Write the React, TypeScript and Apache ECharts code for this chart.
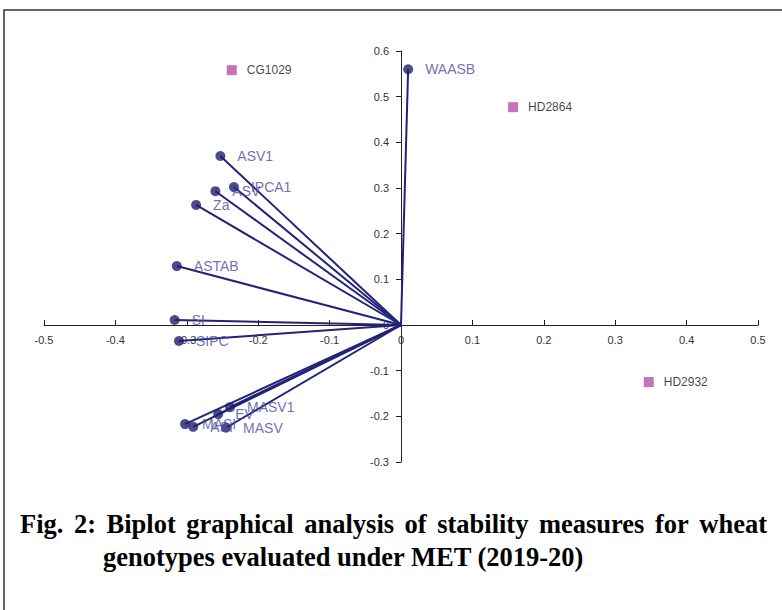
import React, { useEffect, useRef } from "react";
import * as echarts from "echarts";

const vectorNames = ["WAASB", "ASV1", "IPCA1", "ASV", "Za", "ASTAB", "SI", "SIPC", "MASV1", "EV", "MASV", "ASI", "MASI"];
const vectorX = [0.01, -0.253, -0.234, -0.26, -0.287, -0.314, -0.317, -0.311, -0.2395, -0.256, -0.245, -0.291, -0.3025];
const vectorY = [0.56, 0.37, 0.302, 0.293, 0.263, 0.129, 0.011, -0.035, -0.18, -0.195, -0.225, -0.223, -0.217];

const genotypeNames = ["CG1029", "HD2864", "HD2932"];
const genotypeX = [-0.237, 0.157, 0.347];
const genotypeY = [0.558, 0.477, -0.125];

const titleLine1 = "Fig. 2: Biplot graphical analysis of stability measures for wheat";
const titleLine2 = "genotypes evaluated under MET (2019-20)";

const TITLE_FONT = 'bold 26.5px "Liberation Serif"';

function justifiedWords(text: string, left: number, right: number, y: number) {
  const words = text.split(" ");
  const canvas = document.createElement("canvas");
  const ctx = canvas.getContext("2d")!;
  ctx.font = TITLE_FONT;
  const widths = words.map((w) => ctx.measureText(w).width);
  const total = widths.reduce((a, b) => a + b, 0);
  const gap = (right - left - total) / (words.length - 1);
  let x = left;
  return words.map((w, i) => {
    const el = {
      type: "text",
      left: x,
      top: y,
      style: { text: w, font: TITLE_FONT, fill: "#000" },
    };
    x += widths[i] + gap;
    return el;
  });
}

const GRID_LEFT = 44;
const GRID_RIGHT = 24;
const GRID_TOP = 51;
const GRID_BOTTOM = 148;
const X_MIN = -0.5, X_MAX = 0.5, Y_MIN = -0.3, Y_MAX = 0.6;

export default function App() {
  const ref = useRef<HTMLDivElement>(null);
  useEffect(() => {
    if (!ref.current) return;
    const chart = echarts.init(ref.current, null, { renderer: "svg" });
    const lineData = vectorNames.map((n, i) => ({ coords: [[0, 0], [vectorX[i], vectorY[i]]] }));
    const vecData = vectorNames.map((n, i) => ({ name: n, value: [vectorX[i], vectorY[i]] }));
    const genData = genotypeNames.map((n, i) => ({ name: n, value: [genotypeX[i], genotypeY[i]] }));
    const tickLabel = { fontFamily: "Liberation Sans", fontSize: 11, color: "#333" };
    const plotW = 782 - GRID_LEFT - GRID_RIGHT;
    const plotH = 610 - GRID_TOP - GRID_BOTTOM;
    // shift axes so they cross at the origin
    const xAxisOffset = -((0 - Y_MIN) / (Y_MAX - Y_MIN)) * plotH;
    const yAxisOffset = -((0 - X_MIN) / (X_MAX - X_MIN)) * plotW;
    const fmt = (v: number) => String(Math.round(v * 10) / 10);
    chart.setOption({
      animation: false,
      backgroundColor: "#fff",
      grid: { left: GRID_LEFT, right: GRID_RIGHT, top: GRID_TOP, bottom: GRID_BOTTOM, containLabel: false },
      xAxis: {
        type: "value",
        min: X_MIN,
        max: X_MAX,
        interval: 0.1,
        position: "bottom",
        offset: xAxisOffset,
        splitLine: { show: false },
        axisLine: { onZero: false, lineStyle: { color: "#222", width: 1 } },
        axisTick: { inside: true, length: 5, lineStyle: { color: "#222" } },
        axisLabel: { ...tickLabel, margin: 9, formatter: fmt },
      },
      yAxis: {
        type: "value",
        min: Y_MIN,
        max: Y_MAX,
        interval: 0.1,
        position: "left",
        offset: yAxisOffset,
        splitLine: { show: false },
        axisLine: { onZero: false, lineStyle: { color: "#222", width: 1 } },
        axisTick: { inside: false, length: 5, lineStyle: { color: "#222" } },
        axisLabel: { ...tickLabel, margin: 12, formatter: fmt },
      },
      series: [
        {
          type: "lines",
          coordinateSystem: "cartesian2d",
          data: lineData,
          lineStyle: { color: "#23237a", width: 2, opacity: 1 },
          symbol: ["none", "none"],
          silent: true,
          z: 2,
        },
        {
          type: "scatter",
          data: vecData,
          symbol: "circle",
          symbolSize: 10,
          itemStyle: { color: "#1f1f6e" },
          label: {
            show: true,
            position: "right",
            distance: 12,
            formatter: "{b}",
            color: "#4a4a9e",
            fontFamily: "Liberation Sans",
            fontSize: 14,
          },
          z: 3,
        },
        {
          type: "scatter",
          data: genData,
          symbol: "rect",
          symbolSize: 10,
          itemStyle: { color: "#b84fa6" },
          label: {
            show: true,
            position: "right",
            distance: 10,
            formatter: "{b}",
            color: "#111",
            fontFamily: "Liberation Sans",
            fontSize: 12,
          },
          z: 3,
        },
      ],
      graphic: [
        {
          type: "rect",
          shape: { x: 4, y: 10, width: 900, height: 900 },
          style: { fill: "none", stroke: "#333", lineWidth: 1.5 },
          silent: true,
        },
        ...justifiedWords(titleLine1, 20, 767, 510),
        {
          type: "text",
          left: 103,
          top: 543,
          style: { text: titleLine2, font: TITLE_FONT, fill: "#000" },
        },
      ],
    });
    return () => chart.dispose();
  }, []);
  return <div ref={ref} style={{ position: "fixed", left: 0, top: 0, width: 782, height: 610 }} />;
}
